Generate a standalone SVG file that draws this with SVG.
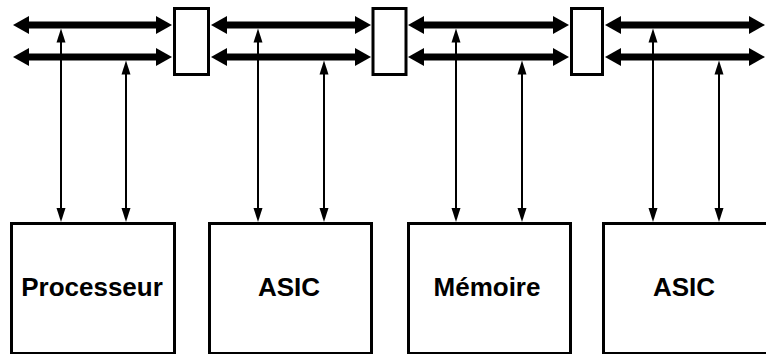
<svg xmlns="http://www.w3.org/2000/svg" width="766" height="354" viewBox="0 0 766 354">
  <style>
    .bus { stroke: #000; stroke-width: 7; fill: none; }
    .tap { stroke: #000; stroke-width: 2; fill: none; }
    .bridge { fill: #fff; stroke: #000; stroke-width: 3; }
    .unit { fill: #fff; stroke: #000; stroke-width: 3; }
    .label { font-family: "Liberation Sans", Arial, sans-serif; font-weight: bold; font-size: 26px; fill: #000; text-anchor: middle; }
  </style>
  <defs>
    <!-- wide heads for the bus lines; anchored at the base so the thick stroke stops under the head -->
    <marker id="busHead" markerUnits="userSpaceOnUse" markerWidth="17" markerHeight="18" refX="1" refY="9" orient="auto-start-reverse">
      <path d="M0,0 L16,9 L0,18 Z" fill="#000"/>
    </marker>
    <!-- small heads for the tap lines -->
    <marker id="tapHead" markerUnits="userSpaceOnUse" markerWidth="15" markerHeight="10" refX="1" refY="5" orient="auto-start-reverse">
      <path d="M0,0.5 L14,5 L0,9.5 Z" fill="#000"/>
    </marker>
  </defs>

  <!-- connectors: two parallel buses split by bridges, plus taps to each unit -->
  <g id="connectors">
    <!-- segment 1 -->
    <line class="bus" x1="28" y1="25" x2="157" y2="25" marker-start="url(#busHead)" marker-end="url(#busHead)"/>
    <line class="bus" x1="28" y1="57" x2="157" y2="57" marker-start="url(#busHead)" marker-end="url(#busHead)"/>
    <!-- segment 2 -->
    <line class="bus" x1="226" y1="25" x2="356" y2="25" marker-start="url(#busHead)" marker-end="url(#busHead)"/>
    <line class="bus" x1="226" y1="57" x2="356" y2="57" marker-start="url(#busHead)" marker-end="url(#busHead)"/>
    <!-- segment 3 -->
    <line class="bus" x1="423" y1="25" x2="554" y2="25" marker-start="url(#busHead)" marker-end="url(#busHead)"/>
    <line class="bus" x1="423" y1="57" x2="554" y2="57" marker-start="url(#busHead)" marker-end="url(#busHead)"/>
    <!-- segment 4 -->
    <line class="bus" x1="620" y1="25" x2="750" y2="25" marker-start="url(#busHead)" marker-end="url(#busHead)"/>
    <line class="bus" x1="620" y1="57" x2="750" y2="57" marker-start="url(#busHead)" marker-end="url(#busHead)"/>

    <!-- taps: upper bus -->
    <line class="tap" x1="61" y1="41.5" x2="61" y2="209" marker-start="url(#tapHead)" marker-end="url(#tapHead)"/>
    <line class="tap" x1="258" y1="41.5" x2="258" y2="209" marker-start="url(#tapHead)" marker-end="url(#tapHead)"/>
    <line class="tap" x1="456" y1="41.5" x2="456" y2="209" marker-start="url(#tapHead)" marker-end="url(#tapHead)"/>
    <line class="tap" x1="653" y1="41.5" x2="653" y2="209" marker-start="url(#tapHead)" marker-end="url(#tapHead)"/>
    <!-- taps: lower bus -->
    <line class="tap" x1="126" y1="73.5" x2="126" y2="209" marker-start="url(#tapHead)" marker-end="url(#tapHead)"/>
    <line class="tap" x1="324" y1="73.5" x2="324" y2="209" marker-start="url(#tapHead)" marker-end="url(#tapHead)"/>
    <line class="tap" x1="522" y1="73.5" x2="522" y2="209" marker-start="url(#tapHead)" marker-end="url(#tapHead)"/>
    <line class="tap" x1="719" y1="73.5" x2="719" y2="209" marker-start="url(#tapHead)" marker-end="url(#tapHead)"/>
  </g>

  <!-- bus bridges -->
  <g id="bridge1"><rect class="bridge" x="174.5" y="8.5" width="34" height="66"/></g>
  <g id="bridge2"><rect class="bridge" x="373" y="8.5" width="33" height="66"/></g>
  <g id="bridge3"><rect class="bridge" x="571.5" y="8.5" width="31" height="66"/></g>

  <!-- units -->
  <g id="processeur">
    <rect class="unit" x="11.5" y="223.5" width="163" height="130"/>
    <text class="label" x="92" y="296">Processeur</text>
  </g>
  <g id="asic1">
    <rect class="unit" x="209.5" y="223.5" width="162" height="130"/>
    <text class="label" x="289" y="296">ASIC</text>
  </g>
  <g id="memoire">
    <rect class="unit" x="408.5" y="223.5" width="162" height="130"/>
    <text class="label" x="487" y="296">Mémoire</text>
  </g>
  <g id="asic2">
    <rect class="unit" x="603.5" y="223.5" width="170" height="130"/>
    <text class="label" x="684" y="296">ASIC</text>
  </g>
</svg>
